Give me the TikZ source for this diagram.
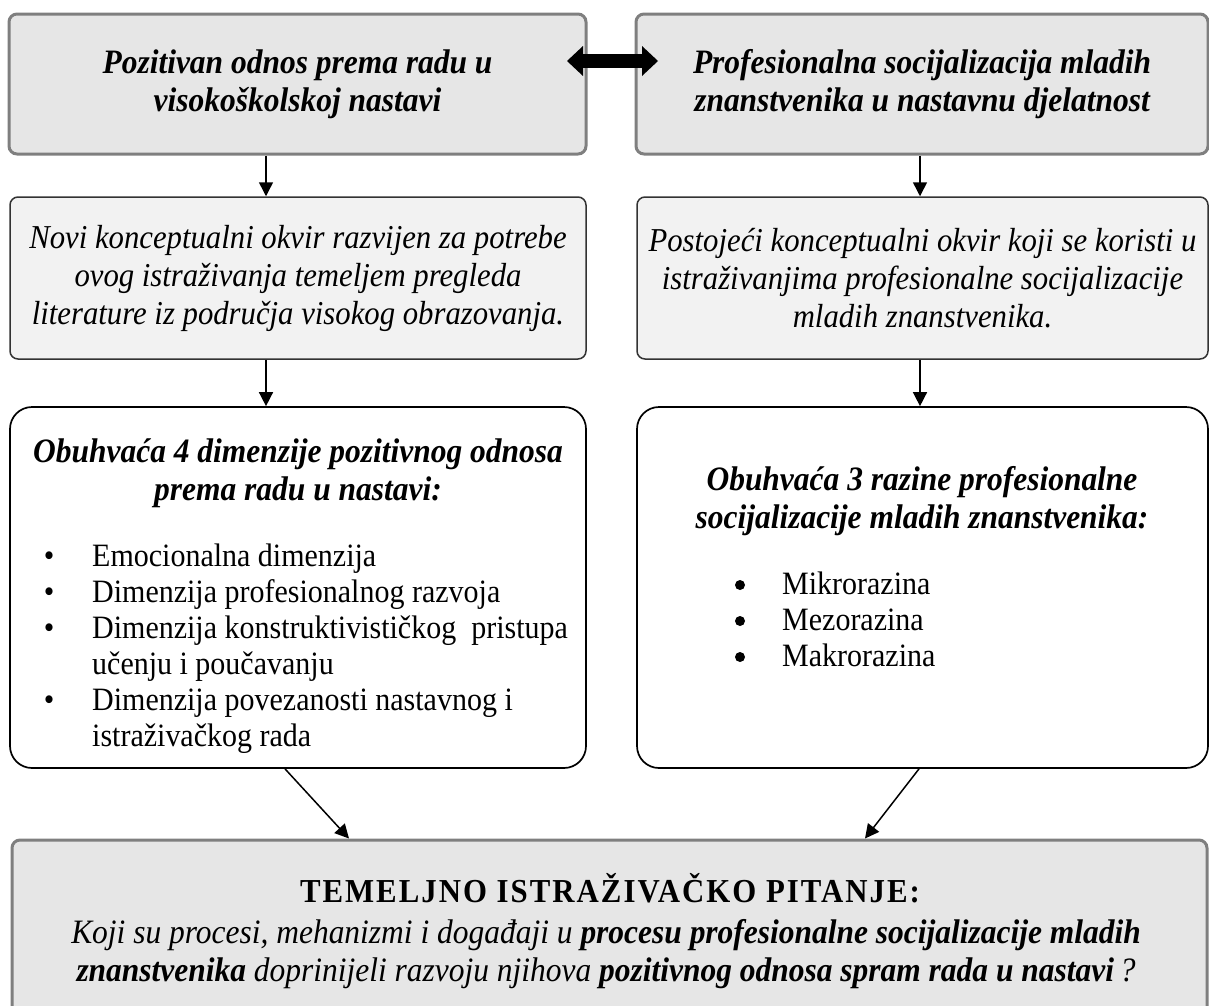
\documentclass[tikz,border=0pt]{standalone}
\usepackage{fontspec}
\setmainfont[FakeStretch=0.92]{Liberation Serif}
\usetikzlibrary{arrows.meta}
\definecolor{topfill}{HTML}{E6E6E6}
\definecolor{topdraw}{HTML}{7F7F7F}
\definecolor{midfill}{HTML}{F2F2F2}
\definecolor{middraw}{HTML}{333333}
\newcommand\boldfont{\fontsize{34.2}{38}\selectfont}
\newcommand\bodyfont{\fontsize{33.4}{38}\selectfont}
\newcommand\listfont{\fontsize{32.6}{36}\selectfont}
\newcommand\quesfont{\fontsize{34.2}{38}\selectfont}
\newfontfamily\headfont[LetterSpace=6,FakeStretch=0.92]{Liberation Serif}
\begin{document}
\begin{tikzpicture}[x=1pt,y=-1pt,
  topbox/.style={draw=topdraw, fill=topfill, line width=3pt, rounded corners=8pt, inner sep=0pt, align=center},
  midbox/.style={draw=middraw, fill=midfill, line width=1.5pt, rounded corners=8pt, inner sep=0pt, align=center},
  lowbox/.style={draw=black, fill=white, line width=1.7pt, rounded corners=22pt, inner sep=0pt},
  txt/.style={inner sep=0pt, align=center},
  item/.style={inner sep=0pt, anchor=base west, font=\listfont},
  bul/.style={inner sep=0pt, anchor=base, font=\listfont},
  dot/.style={circle, fill=black, inner sep=0pt, minimum size=10pt},
  arr/.style={line width=1.5pt, -{Triangle[length=14pt,width=14pt]}},
  dbl/.style={line width=14pt, {Triangle[length=16pt,width=30pt,line width=0pt]}-{Triangle[length=16pt,width=30pt,line width=0pt]}}
]
\useasboundingbox (0,0) rectangle (1209,1005);
% row 1
\node[topbox, minimum width=577pt, minimum height=140pt, font=\boldfont\bfseries\itshape] (b1l) at (297.5,84)
  {Pozitivan odnos prema radu u\\visokoškolskoj nastavi};
\node[topbox, minimum width=572pt, minimum height=140pt, font=\boldfont\bfseries\itshape] (b1r) at (922,84)
  {Profesionalna socijalizacija mladih\\znanstvenika u nastavnu djelatnost};
% row 2
\node[midbox, minimum width=576pt, minimum height=162pt, font=\bodyfont\itshape] (b2l) at (298,278)
  {Novi konceptualni okvir razvijen za potrebe\\ovog istraživanja temeljem pregleda\\literature iz područja visokog obrazovanja.};
\node[midbox, minimum width=571pt, minimum height=162pt, font=\bodyfont\itshape] (b2r) at (922.5,278)
  {Postojeći konceptualni okvir koji se koristi u\\istraživanjima profesionalne socijalizacije\\mladih znanstvenika.};
% row 3
\node[lowbox, minimum width=576pt, minimum height=361pt] (b3l) at (298,587.5) {};
\node[lowbox, minimum width=571pt, minimum height=361pt] (b3r) at (922.5,587.5) {};
\node[txt, font=\boldfont\bfseries\itshape] (h3l) at (298,473.5)
  {Obuhvaća 4 dimenzije pozitivnog odnosa\\prema radu u nastavi:};
\node[bul] (bl1) at (49,566) {•};
\node[bul] (bl2) at (49,602) {•};
\node[bul] (bl3) at (49,638) {•};
\node[bul] (bl4) at (49,710) {•};
\node[item] (il1) at (92,566) {Emocionalna dimenzija};
\node[item] (il2) at (92,602) {Dimenzija profesionalnog razvoja};
\node[item] (il3) at (92,638) {Dimenzija konstruktivističkog\ \ pristupa};
\node[item] (il3b) at (92,674) {učenju i poučavanju};
\node[item] (il4) at (92,710) {Dimenzija povezanosti nastavnog i};
\node[item] (il4b) at (92,746) {istraživačkog rada};
\node[txt, font=\boldfont\bfseries\itshape] (h3r) at (922,501.5)
  {Obuhvaća 3 razine profesionalne\\socijalizacije mladih znanstvenika:};
\node[dot] (br1) at (740,585) {};
\node[dot] (br2) at (740,621) {};
\node[dot] (br3) at (740,657) {};
\node[item] (ir1) at (782,594) {Mikrorazina};
\node[item] (ir2) at (782,630) {Mezorazina};
\node[item] (ir3) at (782,666) {Makrorazina};
% row 4
\node[topbox, minimum width=1195pt, minimum height=190pt] (b4) at (609.5,935) {};
\node[txt, font=\headfont\fontsize{33.5}{36}\selectfont\bfseries] (h4) at (610,888) {TEMELJNO ISTRAŽIVAČKO PITANJE:};
\node[txt, font=\quesfont\itshape] (q4) at (606,954)
  {Koji su procesi, mehanizmi i događaji u \textbf{procesu profesionalne socijalizacije mladih}\\
   \textbf{znanstvenika} doprinijeli razvoju njihova \textbf{pozitivnog odnosa spram rada u nastavi}\,?};
% connectors
\coordinate (xl) at (266,0);
\coordinate (xr) at (920,0);
\coordinate (dl1) at (285,0);
\coordinate (dl2) at (349,0);
\coordinate (dr1) at (919,0);
\coordinate (dr2) at (865,0);
\coordinate (dal) at (567,61);
\coordinate (dar) at (658,61);
\draw[arr] (b1l.south -| xl) -- (b2l.north -| xl);
\draw[arr] (b1r.south -| xr) -- (b2r.north -| xr);
\draw[arr] (b2l.south -| xl) -- (b3l.north -| xl);
\draw[arr] (b2r.south -| xr) -- (b3r.north -| xr);
\draw[arr] (b3l.south -| dl1) -- (b4.north -| dl2);
\draw[arr] (b3r.south -| dr1) -- (b4.north -| dr2);
\draw[dbl] (dal) -- (dar);
\end{tikzpicture}
\end{document}
